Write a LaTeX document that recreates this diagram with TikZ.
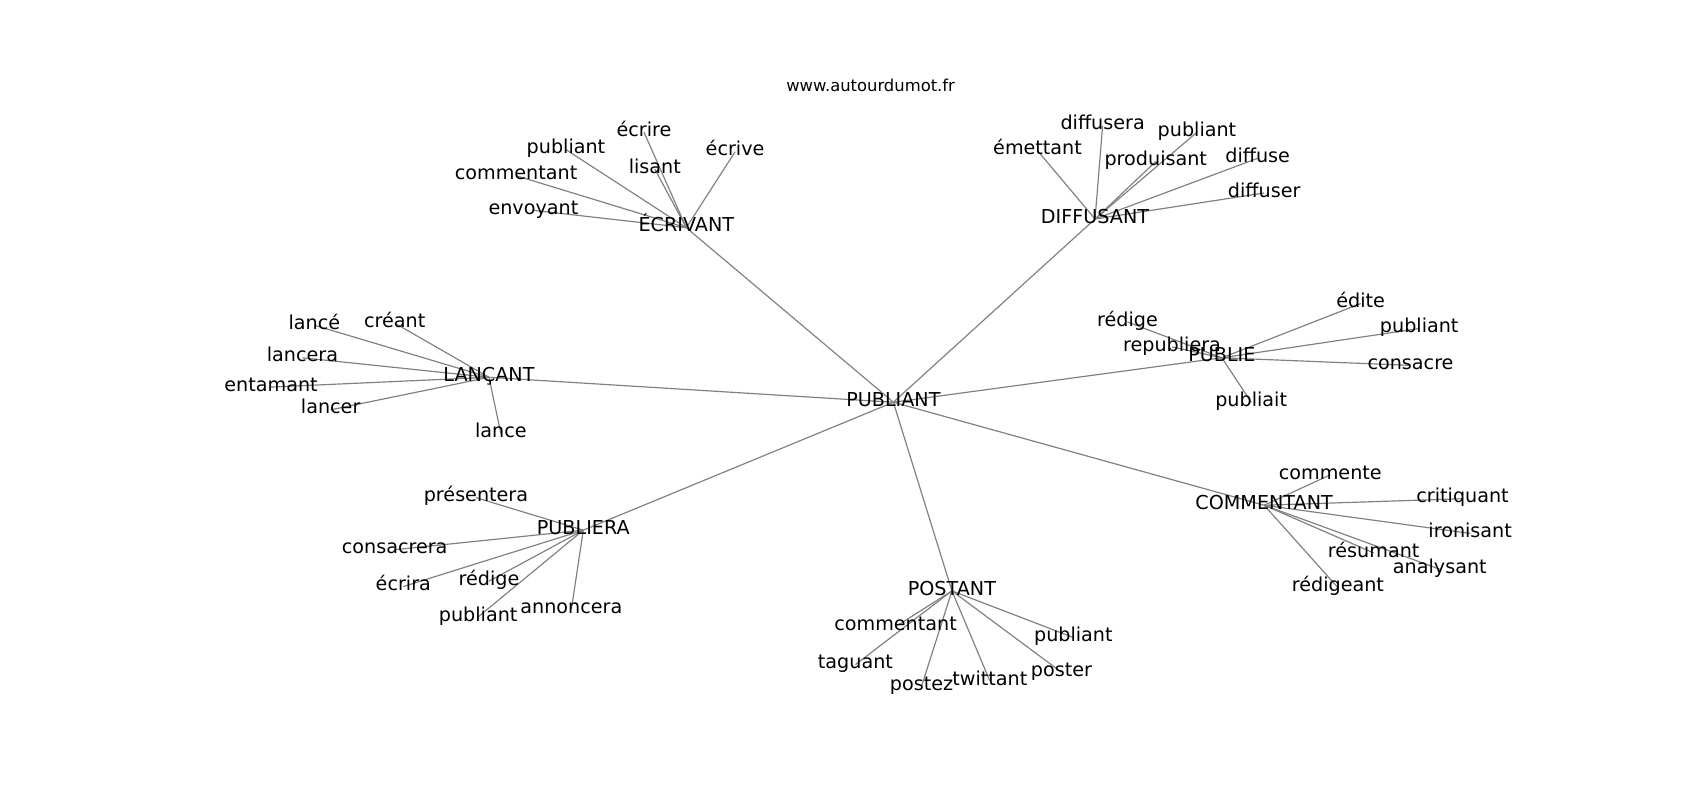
\documentclass[tikz,border=0pt]{standalone}
\usepackage{fontspec}
\setmainfont{DejaVu Sans}
\pgfdeclarelayer{bg}
\pgfsetlayers{bg,main}
\begin{document}
\begin{tikzpicture}[x=0.7806pt,y=-0.7806pt,
  lbl/.style={font=\fontsize{13.8}{16}\selectfont, text height=0.8em, text depth=0.2em, inner sep=0pt},
  ttl/.style={font=\fontsize{11.8}{14}\selectfont, inner sep=0pt},
  edge/.style={draw=black!50, line width=0.85pt}]
\useasboundingbox (0,0) rectangle (1568,738);
\begin{scope}[yshift=-2*0.7806pt]
\node[ttl] (title) at (803,77) {www.autourdumot.fr};
% hubs
\node[lbl] (c) at (824,369) {PUBLIANT};
\node[lbl] (ec) at (633,208) {ÉCRIVANT};
\node[lbl] (di) at (1010,200) {DIFFUSANT};
\node[lbl] (la) at (451,346) {LANÇANT};
\node[lbl] (pu) at (1127,328) {PUBLIE};
\node[lbl] (co) at (1166,464) {COMMENTANT};
\node[lbl] (pa) at (538,487) {PUBLIERA};
\node[lbl] (po) at (878,543) {POSTANT};
% ECRIVANT leaves
\node[lbl] (ec1) at (594,120) {écrire};
\node[lbl] (ec2) at (522,136) {publiant};
\node[lbl] (ec3) at (476,160) {commentant};
\node[lbl] (ec4) at (604,154) {lisant};
\node[lbl] (ec5) at (678,138) {écrive};
\node[lbl] (ec6) at (492,192) {envoyant};
% DIFFUSANT leaves
\node[lbl] (di1) at (1017,114) {diffusera};
\node[lbl] (di2) at (957,137) {émettant};
\node[lbl] (di3) at (1104,120) {publiant};
\node[lbl] (di4) at (1066,147) {produisant};
\node[lbl] (di5) at (1160,144) {diffuse};
\node[lbl] (di6) at (1166,176) {diffuser};
% LANCANT leaves
\node[lbl] (la1) at (290,298) {lancé};
\node[lbl] (la2) at (364,296) {créant};
\node[lbl] (la3) at (279,328) {lancera};
\node[lbl] (la4) at (250,355) {entamant};
\node[lbl] (la5) at (305,376) {lancer};
\node[lbl] (la6) at (462,398) {lance};
% PUBLIE leaves
\node[lbl] (pu1) at (1040,295) {rédige};
\node[lbl] (pu2) at (1081,318) {republiera};
\node[lbl] (pu3) at (1255,278) {édite};
\node[lbl] (pu4) at (1309,301) {publiant};
\node[lbl] (pu5) at (1301,335) {consacre};
\node[lbl] (pu6) at (1154,369) {publiait};
% COMMENTANT leaves
\node[lbl] (co1) at (1227,436) {commente};
\node[lbl] (co2) at (1349,458) {critiquant};
\node[lbl] (co3) at (1356,490) {ironisant};
\node[lbl] (co4) at (1267,508) {résumant};
\node[lbl] (co5) at (1328,523) {analysant};
\node[lbl] (co6) at (1234,540) {rédigeant};
% PUBLIERA leaves
\node[lbl] (pa1) at (439,457) {présentera};
\node[lbl] (pa2) at (364,505) {consacrera};
\node[lbl] (pa3) at (372,539) {écrira};
\node[lbl] (pa4) at (451,534) {rédige};
\node[lbl] (pa5) at (441,567) {publiant};
\node[lbl] (pa6) at (527,560) {annoncera};
% POSTANT leaves
\node[lbl] (po1) at (826,576) {commentant};
\node[lbl] (po2) at (789,611) {taguant};
\node[lbl] (po3) at (850,631) {postez};
\node[lbl] (po4) at (913,626) {twittant};
\node[lbl] (po5) at (979,618) {poster};
\node[lbl] (po6) at (990,586) {publiant};
\end{scope}
\begin{pgfonlayer}{bg}
\foreach \h in {ec,di,la,pu,co,pa,po}{
  \draw[edge] (c.center) -- (\h.center);
  \foreach \i in {1,...,6}{
    \draw[edge] (\h.center) -- (\h\i.center);
  }
}
\end{pgfonlayer}
\end{tikzpicture}
\end{document}
